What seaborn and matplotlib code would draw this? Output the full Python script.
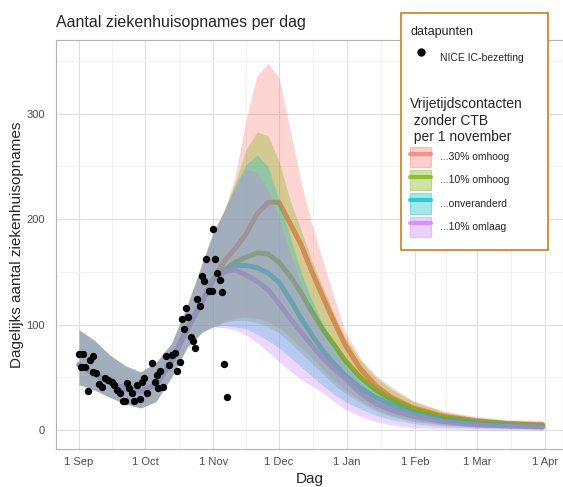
import matplotlib
matplotlib.use("Agg")
import matplotlib.pyplot as plt
from matplotlib.lines import Line2D
from matplotlib.patches import Patch, Rectangle
from matplotlib.ticker import MultipleLocator, FixedLocator
import numpy as np
import pandas as pd
import seaborn as sns

START = pd.Timestamp("2020-09-01")

# observed daily admissions (NICE), day offset from 1 Sep
obs_day = [0, 0.8, 1.7, 2.7, 4, 5, 6.2, 6.5, 7.7, 9.2, 10.3, 11.8, 13.3, 14.9, 15.9,
           17.4, 18.7, 20.2, 20.9, 22, 22.9, 24, 25, 26.2, 27.7, 28.5, 29.6, 31.1,
           33, 34.6, 35.6, 36.1, 36.9, 38.4, 39.6, 41.1, 42.2, 43.7, 44.7, 46, 46.7,
           47.8, 48.7, 49.7, 50.8, 52, 52.8, 53.5, 55, 56.1, 56.9, 57.8, 59.1, 60.4,
           60.8, 61.9, 62.9, 64.1, 64.9, 66, 67.2]
obs_val = [72, 60, 72, 60, 37, 66, 55, 70, 54, 44, 41, 49, 47, 46, 43,
           38, 35, 28, 28, 45, 40, 35, 28, 43, 29, 46, 49, 35,
           64, 46, 52, 40, 56, 41, 70, 62, 71, 73, 56, 65, 105,
           96, 116, 107, 88, 84, 78, 124, 118, 146, 141, 162, 132, 132,
           191, 162, 149, 142, 131, 63, 31]

# model fit before 1 November (shared by all scenarios)
shared_day = [0, 7, 14, 21, 28, 35, 42, 49, 56, 61]
shared_mid = [62, 53, 45, 39, 37, 43, 65, 95, 122, 143]
shared_lo = [43, 38, 31, 25, 21, 27, 50, 78, 93, 98]
shared_hi = [95, 85, 71, 61, 55, 64, 82, 117, 158, 187]

# scenarios from 1 November
scen_day = [61, 66, 71, 76, 81, 86, 91, 96, 101, 106, 111, 116, 121, 128, 135, 142,
            152, 166, 180, 195, 211]
scen_names = ["...30% omhoog", "...10% omhoog", "...onveranderd", "...10% omlaag"]
scen_colors = ["#F8766D", "#7CAE00", "#00BFC4", "#C77CFF"]

red_mid = [143, 160, 172, 186, 205, 216, 216, 196, 176, 150, 126, 103, 81, 58, 42, 31, 21, 13, 9, 6, 5]
red_lo = [98, 103, 106, 107, 106, 103, 97, 88, 78, 68, 57, 47, 38, 28, 20, 14, 9, 5, 3, 2, 1]
red_hi = [187, 208, 240, 295, 336, 348, 334, 285, 235, 195, 160, 126, 94, 68, 52, 41, 28, 18, 13, 10, 9]

green_mid = [143, 152, 159, 164, 168, 167, 159, 146, 130, 112, 95, 81, 66, 50, 38, 29, 20, 12, 8, 6, 4]
green_lo = [98, 102, 104, 104, 102, 98, 92, 83, 73, 63, 53, 43, 35, 26, 18, 13, 8, 5, 3, 2, 1]
green_hi = [187, 208, 235, 266, 283, 279, 255, 218, 190, 160, 135, 110, 88, 66, 50, 39, 27, 17, 12, 9, 8]

cyan_mid = [143, 150, 156, 156, 154, 149, 140, 124, 106, 90, 75, 63, 52, 40, 31, 24, 16, 10, 7, 5, 3]
cyan_lo = [98, 99, 98, 96, 91, 85, 78, 69, 60, 51, 42, 34, 27, 20, 14, 10, 6, 3, 2, 1, 1]
cyan_hi = [187, 208, 232, 252, 261, 250, 218, 184, 150, 123, 100, 82, 66, 50, 38, 30, 20, 13, 9, 7, 6]

purple_mid = [143, 150, 152, 147, 141, 133, 120, 106, 93, 80, 68, 58, 49, 35, 25, 19, 13, 8, 5, 4, 3]
purple_lo = [98, 97, 95, 90, 83, 74, 65, 56, 48, 42, 35, 27, 20, 13, 8, 5, 2, 1, 0, 0, 0]
purple_hi = [187, 208, 230, 247, 245, 228, 200, 168, 138, 112, 92, 75, 60, 45, 34, 26, 18, 11, 8, 6, 5]

tick_dates = ["2020-09-01", "2020-10-01", "2020-11-01", "2020-12-01",
              "2021-01-01", "2021-02-01", "2021-03-01", "2021-04-01"]
tick_labels = ["1 Sep", "1 Oct", "1 Nov", "1 Dec", "1 Jan", "1 Feb", "1 Mar", "1 Apr"]

scen_mid = [red_mid, green_mid, cyan_mid, purple_mid]
scen_lo = [red_lo, green_lo, cyan_lo, purple_lo]
scen_hi = [red_hi, green_hi, cyan_hi, purple_hi]


def to_dates(days):
    return START + pd.to_timedelta(np.asarray(days, dtype=float), unit="D")


rows = []
for name, mid, lo, hi in zip(scen_names, scen_mid, scen_lo, scen_hi):
    days = shared_day[:-1] + scen_day
    frame = pd.DataFrame({
        "date": to_dates(days),
        "mid": shared_mid[:-1] + mid,
        "lo": shared_lo[:-1] + lo,
        "hi": shared_hi[:-1] + hi,
    })
    frame["scenario"] = name
    rows.append(frame)
model = pd.concat(rows, ignore_index=True)
obs = pd.DataFrame({"date": to_dates(obs_day), "value": obs_val})

sns.set_theme(style="whitegrid")
plt.rcParams["font.family"] = ["Liberation Sans", "DejaVu Sans"]

fig = plt.figure(figsize=(5.63, 4.87), dpi=100)
ax = fig.add_axes([56 / 563, 38 / 487, 507 / 563, 409 / 487])
ax.set_facecolor("white")

palette = dict(zip(scen_names, scen_colors))

# median lines first, the translucent bands go over them (mutes the lines)
sns.lineplot(data=model, x="date", y="mid", hue="scenario", hue_order=scen_names,
             palette=palette, lw=3.6, alpha=0.9, legend=False, ax=ax, zorder=2)
for name in scen_names:
    sub = model[model["scenario"] == name]
    ax.fill_between(sub["date"], sub["lo"], sub["hi"], color=palette[name],
                    alpha=0.3, lw=0, zorder=3)

sns.scatterplot(data=obs, x="date", y="value", color="black", s=28, linewidth=0,
                ax=ax, zorder=4, legend=False)

ax.set_xlim(START - pd.Timedelta(days=10.5), START + pd.Timedelta(days=220.2))
ax.set_ylim(-18, 370)

major = pd.to_datetime(tick_dates)
ax.set_xticks(major)
ax.set_xticklabels(tick_labels)
mids = major[:-1] + (major[1:] - major[:-1]) / 2
ax.xaxis.set_minor_locator(FixedLocator(matplotlib.dates.date2num(mids)))
ax.set_yticks([0, 100, 200, 300])
ax.yaxis.set_minor_locator(MultipleLocator(50))

ax.grid(which="major", color="#dedede", lw=0.8)
ax.grid(which="minor", color="#eeeeee", lw=0.5)
ax.set_axisbelow(True)
for sp in ax.spines.values():
    sp.set_color("#b3b3b3")
    sp.set_linewidth(0.8)
ax.tick_params(which="major", length=3, color="#b3b3b3", labelsize=8,
               labelcolor="#4d4d4d", pad=3)
ax.tick_params(axis="y", which="major", pad=5)
ax.tick_params(which="minor", length=0)

ax.set_title("Aantal ziekenhuisopnames per dag", loc="left", fontsize=11.5, pad=9)
ax.set_xlabel("Dag", fontsize=11, labelpad=3)
ax.set_ylabel("Dagelijks aantal ziekenhuisopnames", fontsize=11, labelpad=2)

# legend box
box = Rectangle((401 / 563, 1 - 250 / 487), 147 / 563, 237 / 487,
                transform=fig.transFigure, facecolor="white", edgecolor="#cc8a34",
                lw=1.3, zorder=4)
fig.add_artist(box)

leg1 = fig.legend(
    handles=[Line2D([], [], marker="o", ls="", color="black", markersize=5)],
    labels=["NICE IC-bezetting"],
    title="datapunten",
    loc="upper left",
    bbox_to_anchor=(401 / 563, 1 - 17 / 487),
    frameon=False,
    fontsize=7.5,
    title_fontsize=9,
    alignment="left",
    handlelength=2.0,
    handleheight=3.9,
    handletextpad=0.8,
)
leg1.set_zorder(5)

scen_handles = [
    (Patch(facecolor=c, edgecolor=c, alpha=0.35, lw=1.0),
     Line2D([], [], color=c, lw=3, alpha=0.7))
    for c in scen_colors
]
leg2 = fig.legend(
    handles=scen_handles,
    labels=scen_names,
    title="Vrijetijdscontacten\n zonder CTB\n per 1 november",
    loc="upper left",
    bbox_to_anchor=(401 / 563, 1 - 88 / 487),
    frameon=False,
    fontsize=7.5,
    title_fontsize=10,
    alignment="left",
    handlelength=2.0,
    handleheight=2.6,
    labelspacing=0.3,
    handletextpad=0.8,
)
leg2.set_zorder(5)

fig.savefig("out.png", dpi=100)
